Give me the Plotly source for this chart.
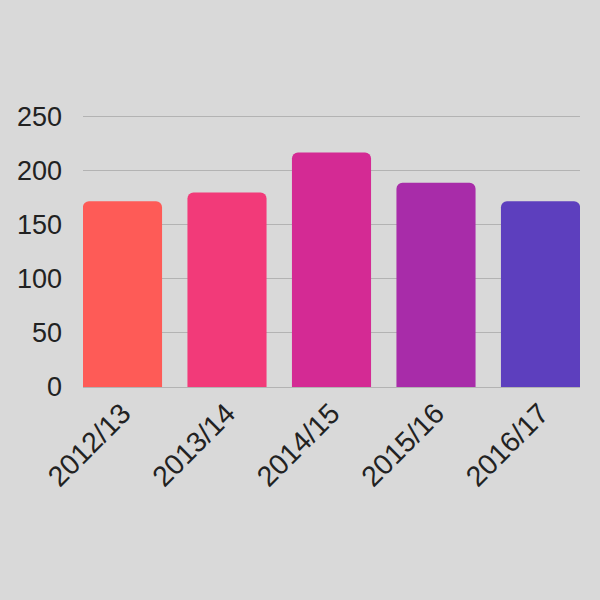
import plotly.graph_objects as go

categories = ["2012/13", "2013/14", "2014/15", "2015/16", "2016/17"]
values = [171.5, 179.5, 216.5, 188.5, 171.5]
colors = ["#FE5B57", "#F23A79", "#D42A94", "#A82CA9", "#5D3FBE"]
y_ticks = [0, 50, 100, 150, 200, 250]

fig = go.Figure(go.Bar(x=categories, y=values, marker=dict(color=colors, line=dict(width=0))))

fig.update_layout(
    width=600, height=600,
    margin=dict(l=83, r=20, t=115, b=213),
    paper_bgcolor="#D9D9D9", plot_bgcolor="#D9D9D9",
    bargap=0.243,
    barcornerradius=6,
    showlegend=False,
    font=dict(family="Liberation Sans, Arial, sans-serif", size=27, color="#222222"),
)
fig.update_xaxes(range=[-0.378, 4.378], tickangle=-45, showgrid=False, showline=False,
                 ticks="", ticklabelstandoff=3, tickfont=dict(size=28.5))
fig.update_yaxes(range=[0, 251], tickvals=y_ticks, showgrid=True, gridcolor="#B3B3B3",
                 gridwidth=1, zeroline=True, zerolinecolor="#B3B3B3", zerolinewidth=1,
                 ticks="", ticklabelstandoff=20, tickfont=dict(size=27))

fig.write_html("out.html")
